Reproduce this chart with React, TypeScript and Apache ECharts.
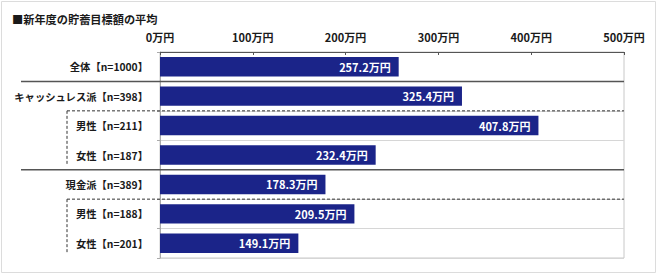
import React, { useEffect, useRef } from "react";
import * as echarts from "echarts";

const title = "■新年度の貯蓄目標額の平均";
const categories = [
  "全体【n=1000】",
  "キャッシュレス派【n=398】",
  "男性【n=211】",
  "女性【n=187】",
  "現金派【n=389】",
  "男性【n=188】",
  "女性【n=201】",
];
const values = [257.2, 325.4, 407.8, 232.4, 178.3, 209.5, 149.1];
const xTicks = [0, 100, 200, 300, 400, 500];
const unit = "万円";

const W = 660;
const H = 274;
const GRID_LEFT = 160;
const GRID_RIGHT_X = 624;
const GRID_TOP = 52;
const GRID_BOTTOM_Y = 258;

export default function App() {
  const ref = useRef<HTMLDivElement>(null);
  useEffect(() => {
    if (!ref.current) return;
    const chart = echarts.init(ref.current, null, { renderer: "svg" });
    const rowH = (GRID_BOTTOM_Y - GRID_TOP) / categories.length;
    const yb = (i: number) => GRID_TOP + rowH * i;
    const dash = { stroke: "#333", lineWidth: 1, lineDash: [3, 2] };
    const solid = { stroke: "#555", lineWidth: 1.5 };
    chart.setOption({
      animation: false,
      textStyle: { fontFamily: "'Noto Sans CJK JP', sans-serif" },
      grid: {
        left: GRID_LEFT,
        right: W - GRID_RIGHT_X,
        top: GRID_TOP,
        bottom: H - GRID_BOTTOM_Y,
        show: true,
        borderColor: "#c8c8c8",
        borderWidth: 1,
      },
      xAxis: {
        type: "value",
        position: "top",
        min: xTicks[0],
        max: xTicks[xTicks.length - 1],
        interval: 100,
        axisLine: { show: true, lineStyle: { color: "#555", width: 1 } },
        axisTick: { show: true, inside: true, length: 3, lineStyle: { color: "#555" } },
        splitLine: { show: false },
        axisLabel: {
          formatter: (v: number) => `${v}${unit}`,
          color: "#1a1a1a",
          fontWeight: "bold",
          fontSize: 11,
          margin: 10,
        },
      },
      yAxis: {
        type: "category",
        inverse: true,
        data: categories,
        axisLine: { show: true, lineStyle: { color: "#aaa" } },
        axisTick: { show: true, length: 3, lineStyle: { color: "#aaa" } },
        splitLine: { show: true, lineStyle: { color: "#d6d6d6", width: 1 } },
        axisLabel: {
          color: "#1a1a1a",
          fontWeight: "bold",
          fontSize: 10.3,
          margin: 12,
        },
      },
      series: [
        {
          type: "bar",
          data: values,
          barCategoryGap: "34%",
          itemStyle: { color: "#1B2489" },
          label: {
            show: true,
            position: "insideRight",
            distance: 8,
            color: "#fff",
            fontWeight: "bold",
            fontSize: 11,
            formatter: (p: any) => `${Number(p.value).toFixed(1)}${unit}`,
          },
        },
      ],
      graphic: [
        {
          type: "rect",
          shape: { x: 1.5, y: 1.5, width: 654, height: 271 },
          style: { fill: "none", stroke: "#dcdcdc", lineWidth: 1 },
          z: -1,
        },
        {
          type: "text",
          left: 12,
          top: 13,
          style: {
            text: title,
            fontSize: 11.2,
            fontWeight: "bold",
            fill: "#1a1a1a",
            fontFamily: "'Noto Sans CJK JP', sans-serif",
          },
        },
        { type: "line", shape: { x1: 21, y1: yb(1), x2: GRID_RIGHT_X, y2: yb(1) }, style: solid, z: 10 },
        { type: "line", shape: { x1: 21, y1: yb(4), x2: GRID_RIGHT_X, y2: yb(4) }, style: solid, z: 10 },
        { type: "line", shape: { x1: 67, y1: yb(2), x2: GRID_RIGHT_X, y2: yb(2) }, style: dash, z: 10 },
        { type: "line", shape: { x1: 67, y1: yb(2), x2: 67, y2: yb(4) - 4 }, style: dash, z: 10 },
        { type: "line", shape: { x1: 67, y1: yb(5), x2: GRID_RIGHT_X, y2: yb(5) }, style: dash, z: 10 },
        { type: "line", shape: { x1: 67, y1: yb(5), x2: 67, y2: yb(7) - 5 }, style: dash, z: 10 },
      ],
    });
    return () => chart.dispose();
  }, []);
  return (
    <div
      ref={ref}
      style={{ position: "absolute", left: 0, top: 0, width: W, height: H, background: "#fff" }}
    />
  );
}
